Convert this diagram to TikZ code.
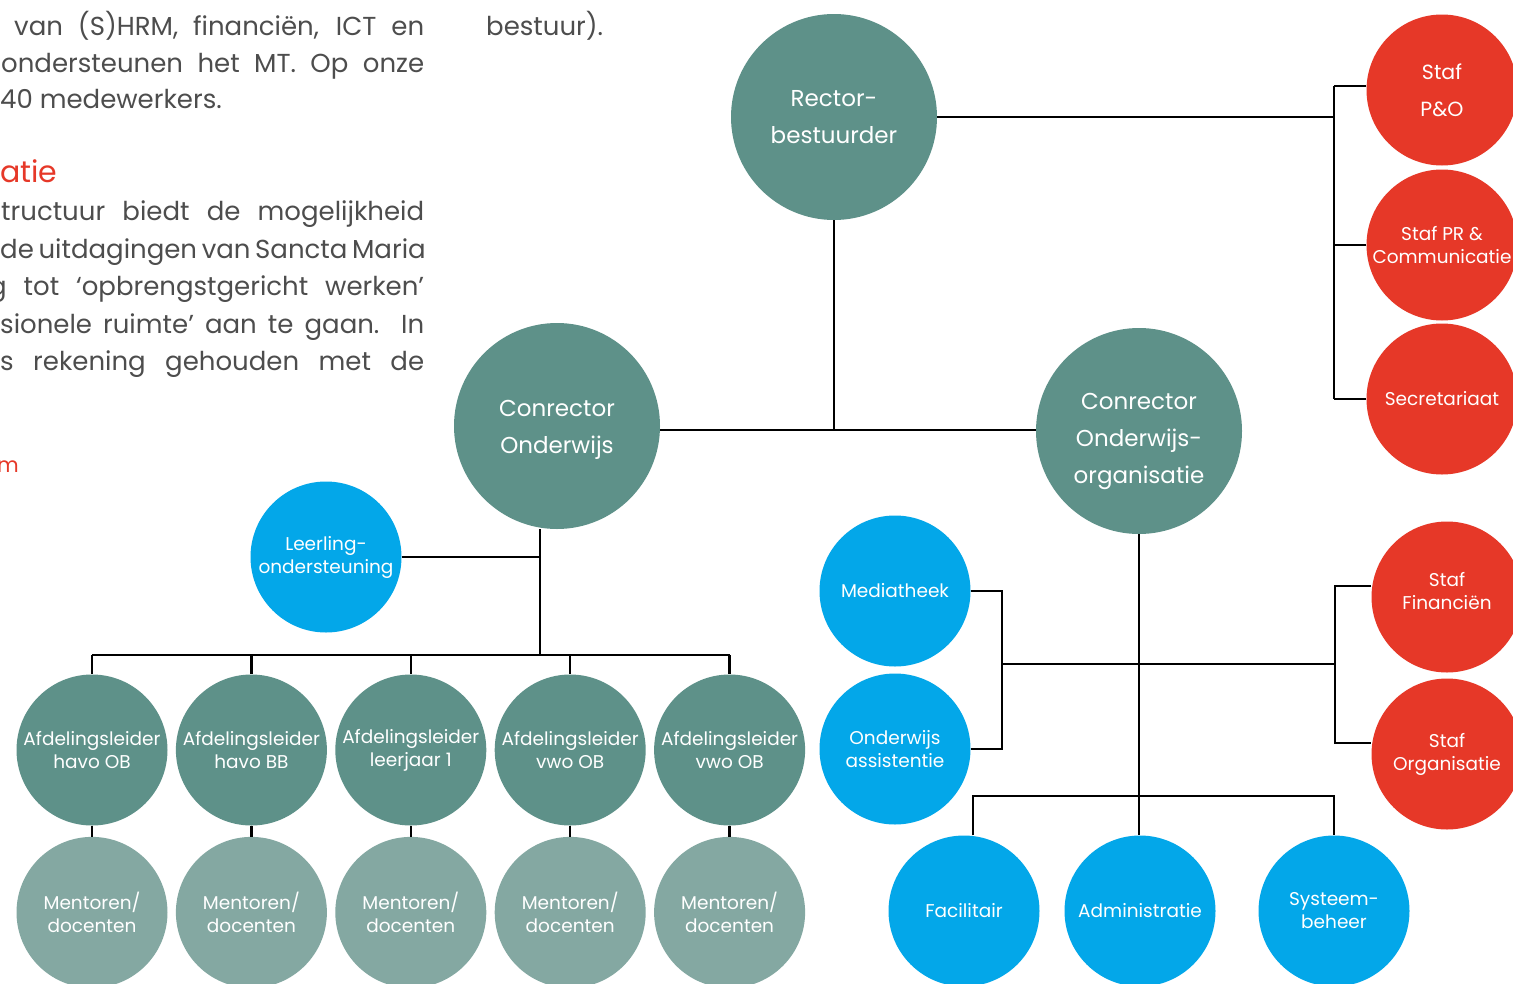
\documentclass[tikz,border=0pt]{standalone}
\usepackage{fontspec}
\setmainfont{Poppins}
\usepackage{tikz}
\usetikzlibrary{positioning}

\definecolor{smteal}{HTML}{5E9189}
\definecolor{smlicht}{HTML}{84A8A2}
\definecolor{smblauw}{HTML}{03A7E9}
\definecolor{smrood}{HTML}{E63828}
\definecolor{smgrijs}{HTML}{4D4D4D}

\begin{document}
\begin{tikzpicture}[x=1pt,y=-1pt,
    every node/.style={inner sep=0pt},
    rol/.style={circle,draw=none,text=white,align=center,minimum size=151pt,font=\fontsize{18.5}{23}\selectfont},
    groot/.style={rol,fill=smteal,minimum size=206pt,font=\fontsize{23}{37}\selectfont},
    grootschrift/.style={text=white,align=center,font=\fontsize{23}{37}\selectfont},
    leider/.style={rol,fill=smteal},
    mentor/.style={rol,fill=smlicht},
    steun/.style={rol,fill=smblauw},
    staf/.style={rol,fill=smrood},
    lijn/.style={line width=2.3pt,black},
    tekst/.style={anchor=base west,text=smgrijs,font=\fontsize{26}{37}\selectfont}]
    \useasboundingbox[fill=white] (0,0) rectangle (1513,983);
    \clip (0,0) rectangle (1513,983);

    % lopende tekst links
    \node[tekst] (t1) at (14,35) {\makebox[410pt][s]{van (S)HRM, financiën, ICT en}};
    \node[tekst] (t2) at (1,72) {\makebox[423pt][s]{ondersteunen het MT. Op onze}};
    \node[tekst] (t3) at (0,108) {40 medewerkers.};
    \node[tekst,text=smrood,font=\fontsize{30}{37}\selectfont] (kop) at (0,182) {atie};
    \node[tekst] (t4) at (1,220) {\makebox[423pt][s]{tructuur biedt de mogelijkheid}};
    \node[tekst] (t5) at (0,258) {\makebox[424pt][s]{de uitdagingen van Sancta Maria}};
    \node[tekst] (t6) at (-11,295) {\makebox[435pt][s]{g tot ‘opbrengstgericht werken’}};
    \node[tekst] (t7) at (0,333) {\makebox[424pt][s]{sionele ruimte’ aan te gaan. In}};
    \node[tekst] (t8) at (0,370) {\makebox[424pt][s]{s rekening gehouden met de}};
    \node[tekst,text=smrood,font=\fontsize{21}{23}\selectfont] (t9) at (-3,472) {m};
    \node[tekst] (t10) at (486,35) {bestuur).};

    % leiding
    \node[groot] (rector) at (834,117) {Rector-\\bestuurder};
    \node[groot] (con) at (557,426) {};
    \node[grootschrift] (con-tekst) at ([yshift=-4pt]con) {Conrector\\Onderwijs};
    \node[groot] (coo) at (1139,431) {};
    \node[grootschrift] (coo-tekst) at ([yshift=-10pt]coo) {Conrector\\Onderwijs-\\organisatie};

    % staf
    \node[staf,font=\fontsize{20.5}{37}\selectfont] (po) at (1442,90) {Staf\\P\&O};
    \node[staf] (pr) at (1442,245) {Staf PR \&\\Communicatie};
    \node[staf] (sec) at (1442,399) {Secretariaat};
    \node[staf] (fin) at (1447,597) {};
    \node[text=white,align=center,font=\fontsize{18.5}{23}\selectfont] (fin-tekst) at ([yshift=6pt]fin) {Staf\\Financiën};
    \node[staf] (org) at (1447,754) {Staf\\Organisatie};

    % ondersteuning
    \node[steun] (ll) at (326,557) {Leerling-\\ondersteuning};
    \node[steun] (med) at (895,591) {Mediatheek};
    \node[steun] (oa) at (895,749) {Onderwijs\\assistentie};
    \node[steun] (fac) at (964,911) {Facilitair};
    \node[steun] (adm) at (1140,911) {Administratie};
    \node[steun] (sys) at (1334,911) {Systeem-\\beheer};

    % afdelingen
    \node[leider] (a1) at (92,750) {Afdelingsleider\\havo OB};
    \node[leider,right=8pt of a1] (a2) {Afdelingsleider\\havo BB};
    \node[leider,right=8pt of a2] (a3) {Afdelingsleider\\leerjaar 1};
    \node[leider,right=8pt of a3] (a4) {Afdelingsleider\\vwo OB};
    \node[leider,right=8pt of a4] (a5) {Afdelingsleider\\vwo OB};
    \node[mentor,below=11pt of a1] (m1) {Mentoren/\\docenten};
    \node[mentor,below=11pt of a2] (m2) {Mentoren/\\docenten};
    \node[mentor,below=11pt of a3] (m3) {Mentoren/\\docenten};
    \node[mentor,below=11pt of a4] (m4) {Mentoren/\\docenten};
    \node[mentor,below=11pt of a5] (m5) {Mentoren/\\docenten};

    % knooppunten
    \coordinate (hb) at (834,430);
    \coordinate (sb) at (1334,117);
    \coordinate (ob) at (540,655);
    \coordinate (lb) at (1002,664);
    \coordinate (rb) at (1335,664);
    \coordinate (fb) at (1141,796);

    % lijnen
    \draw[lijn] (rector) -- (rector |- hb);
    \draw[lijn] (con.east |- hb) -- (coo.west |- hb);
    \draw[lijn] (rector.east) -- (sb);
    \draw[lijn] ([yshift=4pt]sb |- po.west) -- (sb |- sec.west);
    \draw[lijn] ([yshift=4pt]po.west) -- ([yshift=4pt]po.west -| sb);
    \draw[lijn] (pr.west) -- (pr.west -| sb);
    \draw[lijn] (sec.west) -- (sec.west -| sb);

    \draw[lijn] (ob |- con.south) -- (ob);
    \draw[lijn] (ll.east) -- (ll.east -| ob);
    \draw[lijn] (a1.north |- ob) -- (a5.north |- ob);
    \draw[lijn] (a1.north |- ob) -- (a1.north);
    \draw[lijn] (a2.north |- ob) -- (a2.north);
    \draw[lijn] (a3.north |- ob) -- (a3.north);
    \draw[lijn] (a4.north |- ob) -- (a4.north);
    \draw[lijn] (a5.north |- ob) -- (a5.north);
    \draw[lijn] (a1) -- (m1);
    \draw[lijn] (a2) -- (m2);
    \draw[lijn] (a3) -- (m3);
    \draw[lijn] (a4) -- (m4);
    \draw[lijn] (a5) -- (m5);

    \draw[lijn] (coo.south) -- (coo.south |- adm.north);
    \draw[lijn] (lb) -- (rb);
    \draw[lijn] (med.east) -- (med.east -| lb) -- (oa.east -| lb) -- (oa.east);
    \draw[lijn] ([yshift=11pt]fin.west) -- ([yshift=11pt]fin.west -| rb) -- ([yshift=11pt]org.west -| rb) -- ([yshift=11pt]org.west);
    \draw[lijn] ([xshift=9pt]fac.north) -- ([xshift=9pt]fac.north |- fb) -- (sys.north |- fb) -- (sys.north);
\end{tikzpicture}
\end{document}
